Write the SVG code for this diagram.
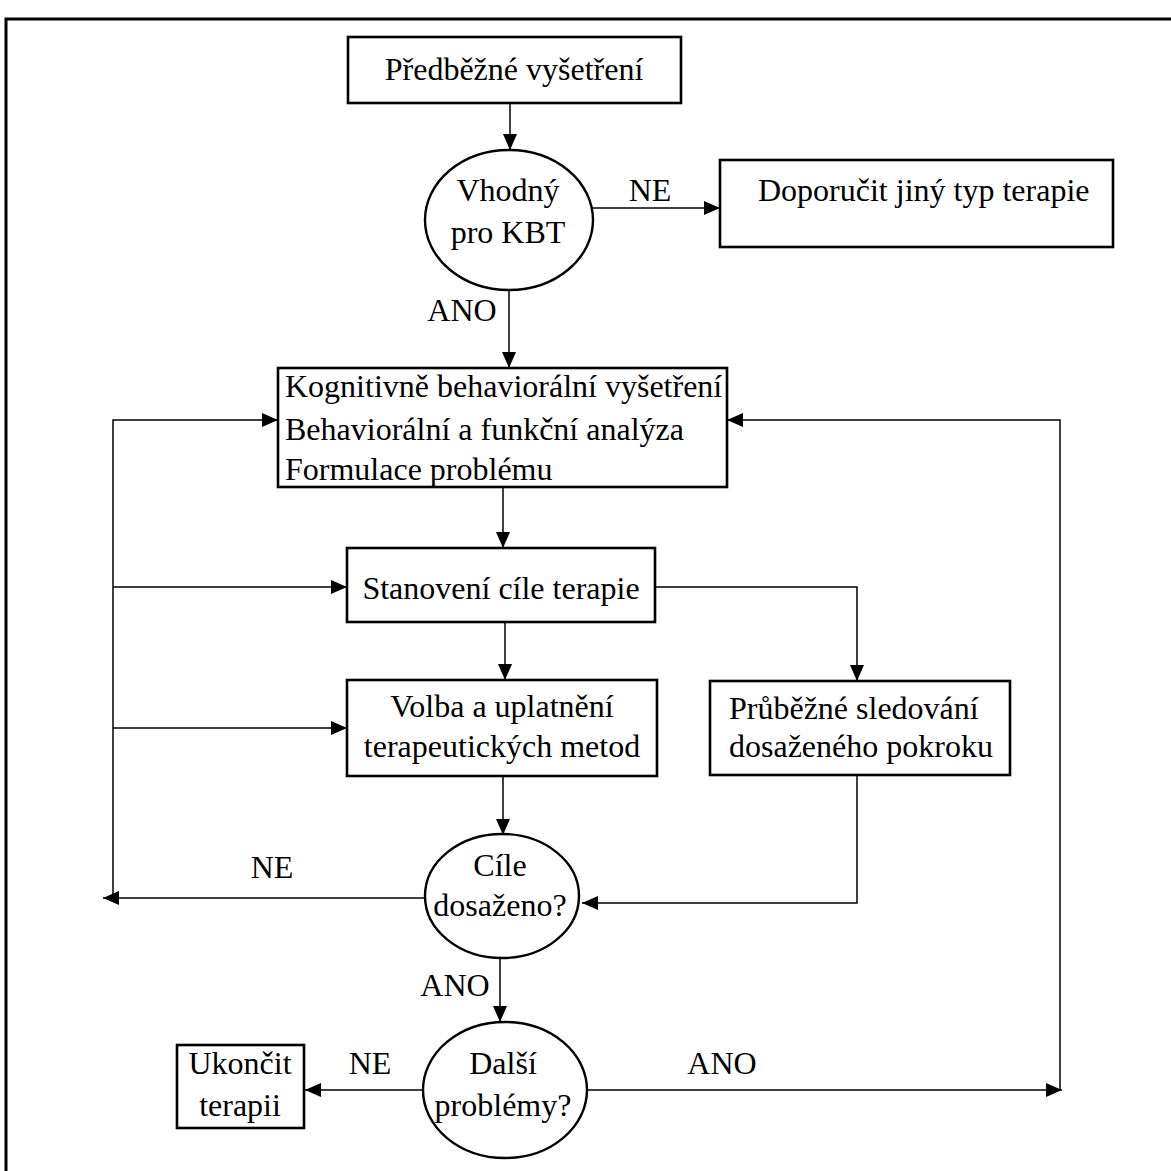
<svg xmlns="http://www.w3.org/2000/svg" width="1171" height="1171" viewBox="0 0 1171 1171">
<style>
.box{fill:#fff;stroke:#000;stroke-width:2.6}
.el{fill:#fff;stroke:#000;stroke-width:2.4}
.ln{fill:none;stroke:#000;stroke-width:1.5}
text{font-family:"Liberation Serif","Times New Roman",serif;font-size:32px;fill:#000}
.c{text-anchor:middle}
</style>
<defs>
<marker id="ah" markerUnits="userSpaceOnUse" markerWidth="16" markerHeight="14" refX="16" refY="7" orient="auto">
<path d="M0,0 L16,7 L0,14 Z" fill="#000"/>
</marker>
</defs>
<rect width="1171" height="1171" fill="#fff"/>
<path d="M1171,19 H6 V1171" fill="none" stroke="#000" stroke-width="3"/>

<g id="connectors">
<path class="ln" d="M510,103 V150" marker-end="url(#ah)"/>
<path class="ln" d="M593,208 H720" marker-end="url(#ah)"/>
<path class="ln" d="M509,290 V368" marker-end="url(#ah)"/>
<path class="ln" d="M113,898 V420 H278" marker-end="url(#ah)"/>
<path class="ln" d="M1060,1090 V420 H727" marker-end="url(#ah)"/>
<path class="ln" d="M503,487 V548" marker-end="url(#ah)"/>
<path class="ln" d="M113,587 H347" marker-end="url(#ah)"/>
<path class="ln" d="M655,587 H857 V681" marker-end="url(#ah)"/>
<path class="ln" d="M505,622 V680" marker-end="url(#ah)"/>
<path class="ln" d="M113,728 H347" marker-end="url(#ah)"/>
<path class="ln" d="M857,775 V903 H582" marker-end="url(#ah)"/>
<path class="ln" d="M503,776 V835" marker-end="url(#ah)"/>
<path class="ln" d="M425,898 H103" marker-end="url(#ah)"/>
<path class="ln" d="M500,958 V1022" marker-end="url(#ah)"/>
<path class="ln" d="M423,1090 H305" marker-end="url(#ah)"/>
<path class="ln" d="M587,1090 H1062" marker-end="url(#ah)"/>
<text class="c" x="650" y="201">NE</text>
<text class="c" x="462" y="321">ANO</text>
<text class="c" x="272" y="878">NE</text>
<text class="c" x="455" y="996">ANO</text>
<text class="c" x="370" y="1074">NE</text>
<text class="c" x="722" y="1074">ANO</text>
</g>

<g id="n1">
<rect class="box" x="348" y="37" width="333" height="66"/>
<text class="c" x="514" y="80">Předběžné vyšetření</text>
</g>
<g id="n2">
<ellipse class="el" cx="509" cy="220" rx="84" ry="70"/>
<text class="c" x="508" y="201">Vhodný</text>
<text class="c" x="508" y="243">pro KBT</text>
</g>
<g id="n3">
<rect class="box" x="720" y="160" width="393" height="87"/>
<text x="758" y="201">Doporučit jiný typ terapie</text>
</g>
<g id="n4">
<rect class="box" x="278" y="368" width="449" height="119"/>
<text x="285" y="397">Kognitivně behaviorální vyšetření</text>
<text x="285" y="440">Behaviorální a funkční analýza</text>
<text x="285" y="480">Formulace problému</text>
</g>
<g id="n5">
<rect class="box" x="347" y="548" width="308" height="74"/>
<text class="c" x="501" y="599">Stanovení cíle terapie</text>
</g>
<g id="n6">
<rect class="box" x="347" y="680" width="310" height="96"/>
<text class="c" x="502" y="717">Volba a uplatnění</text>
<text class="c" x="502" y="757">terapeutických metod</text>
</g>
<g id="n7">
<rect class="box" x="710" y="681" width="300" height="94"/>
<text x="729" y="719">Průběžné sledování</text>
<text x="729" y="757">dosaženého pokroku</text>
</g>
<g id="n8">
<ellipse class="el" cx="502" cy="896" rx="77" ry="62"/>
<text class="c" x="500" y="876">Cíle</text>
<text class="c" x="500" y="916">dosaženo?</text>
</g>
<g id="n9">
<ellipse class="el" cx="505" cy="1090" rx="82" ry="68"/>
<text class="c" x="503" y="1074">Další</text>
<text class="c" x="503" y="1116">problémy?</text>
</g>
<g id="n10">
<rect class="box" x="177" y="1045" width="127" height="83"/>
<text class="c" x="240" y="1074">Ukončit</text>
<text class="c" x="240" y="1116">terapii</text>
</g>
</svg>
